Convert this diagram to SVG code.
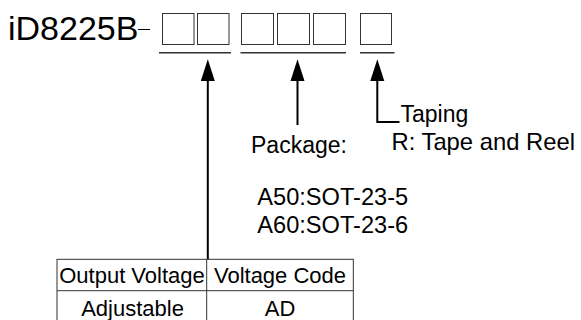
<svg xmlns="http://www.w3.org/2000/svg" width="581" height="320" viewBox="0 0 581 320">
<style>
text{font-family:"Liberation Sans",Arial,sans-serif;fill:#000}
.box{fill:#fff;stroke:#333;stroke-width:1}
.ul{stroke:#333;stroke-width:1.5}
.ln{stroke:#000;stroke-width:2;fill:none}
.tb{stroke:#333;stroke-width:1;fill:none}
.lbl{font-size:23px}
.cell{font-size:22px;text-anchor:middle}
</style>
<g id="part">
<text x="8" y="40" font-size="34">iD8225B</text>
<line x1="138" y1="29.5" x2="150" y2="29.5" stroke="#000" stroke-width="1"/>
</g>
<g id="code1">
<rect class="box" x="162.5" y="13.5" width="31.5" height="31"/>
<rect class="box" x="197.5" y="13.5" width="31.5" height="31"/>
<line class="ul" x1="159" y1="52.7" x2="231" y2="52.7"/>
</g>
<g id="code2">
<rect class="box" x="241.5" y="13.5" width="32" height="31"/>
<rect class="box" x="277.5" y="13.5" width="32" height="31"/>
<rect class="box" x="313.5" y="13.5" width="32" height="31"/>
<line class="ul" x1="240.5" y1="52.7" x2="346" y2="52.7"/>
</g>
<g id="code3">
<rect class="box" x="360.5" y="13.5" width="31" height="31"/>
<line class="ul" x1="360" y1="52.7" x2="394.5" y2="52.7"/>
</g>
<g id="connectors">
<path class="ln" d="M207.8,259.3 L207.8,81" />
<path d="M207.8,59.3 L200.8,81 L214.8,81 Z" fill="#000"/>
<path class="ln" d="M297.5,125 L297.5,81" />
<path d="M297.5,59.3 L290.5,81 L304.5,81 Z" fill="#000"/>
<path class="ln" d="M399.5,122 L377.3,122 L377.3,81" />
<path d="M377.3,59.3 L370.3,81 L384.3,81 Z" fill="#000"/>
</g>
<g id="taping">
<text class="lbl" x="400.5" y="122">Taping</text>
<text x="391.5" y="150" font-size="23.8">R: Tape and Reel</text>
</g>
<g id="package">
<text class="lbl" x="251" y="152.7">Package:</text>
<text x="257.3" y="205" font-size="23.6">A50:SOT-23-5</text>
<text x="257.3" y="232.5" font-size="23.6">A60:SOT-23-6</text>
</g>
<g id="table">
<rect class="tb" x="57" y="259.3" width="296.3" height="66"/>
<line class="tb" x1="57" y1="290.7" x2="353.3" y2="290.7"/>
<line class="tb" x1="206.7" y1="259.3" x2="206.7" y2="325"/>
<text class="cell" x="132" y="283.3">Output Voltage</text>
<text class="cell" x="280" y="283.3">Voltage Code</text>
<text class="cell" x="132.5" y="315.5">Adjustable</text>
<text class="cell" x="280" y="315.5">AD</text>
</g>
</svg>
